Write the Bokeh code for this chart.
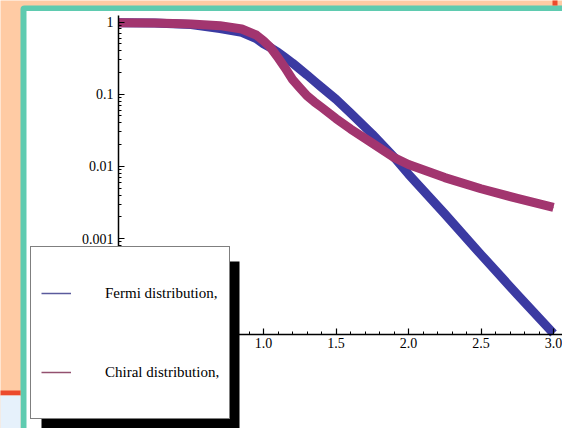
from bokeh.plotting import figure
from bokeh.models import (Range1d, FixedTicker, CustomJSTickFormatter, BoxAnnotation,
                          Legend, LegendItem)
from bokeh.embed import file_html
from bokeh.resources import INLINE

# ---- data ----
x = [0, 0.25, 0.5, 0.7, 0.85, 0.95, 1.0, 1.05, 1.1, 1.15, 1.2, 1.25, 1.3, 1.35,
     1.4, 1.5, 1.6, 1.75, 1.9, 2.0, 2.25, 2.5, 2.75, 3.0]
fermi = [0.98, 0.97, 0.92, 0.81, 0.72, 0.59, 0.50, 0.44, 0.38, 0.32, 0.27, 0.223,
         0.185, 0.152, 0.125, 0.085, 0.055, 0.028, 0.0135, 0.0078, 0.0022, 0.00060,
         0.000168, 0.0000485]
chiral = [0.98, 0.97, 0.94, 0.89, 0.80, 0.66, 0.55, 0.44, 0.32, 0.23, 0.16, 0.123,
          0.095, 0.0785, 0.066, 0.046, 0.033, 0.021, 0.0133, 0.0106, 0.0070, 0.0049,
          0.0036, 0.0027]
labels = ["Fermi distribution,", "Chiral distribution,"]

x_major = [0.5, 1.0, 1.5, 2.0, 2.5, 3.0]
x_minor = [round(0.1 * i, 1) for i in range(1, 31)]
y_major = [1e-4, 1e-3, 1e-2, 1e-1, 1.0]
y_minor = [k * 10.0 ** e for e in range(-5, 1) for k in range(2, 10)]

# ---- styles ----
PEACH = "#ffcba4"
TEAL = "#5fcbb0"
RED = "#ec4a2c"
LIGHTBLUE = "#e6f1fb"
BLUE = "#3b3aa2"
MAGENTA = "#a2356f"
SERIF = "Liberation Serif"

# frame covers the whole canvas; axes are drawn at fixed locations inside it
X0_PX, X_SCALE = 118.0, 145.0          # pixel of x=0, pixels per unit
Y1_PX, DEC_PX = 21.5, 72.2             # pixel of y=1, pixels per decade
W, H = 562, 428
x_lo, x_hi = -X0_PX / X_SCALE, (W - X0_PX) / X_SCALE
y_hi = 10 ** (Y1_PX / DEC_PX)
y_lo = 10 ** (-(H - Y1_PX) / DEC_PX)
x_axis_at = 10 ** (-(334 - Y1_PX) / DEC_PX)
y_axis_top = 10 ** ((Y1_PX - 15) / DEC_PX)

p = figure(width=W, height=H, x_range=Range1d(x_lo, x_hi),
           y_range=Range1d(y_lo, y_hi), y_axis_type="log",
           output_backend="svg", toolbar_location=None,
           min_border=0, min_border_left=0, min_border_right=0,
           min_border_top=0, min_border_bottom=0,
           background_fill_color=PEACH, border_fill_color=PEACH,
           outline_line_color=None)
p.xgrid.visible = False
p.ygrid.visible = False


def cbox(l, t, r, b, color, level="underlay", **kw):
    return BoxAnnotation(left=l, right=r, top=t, bottom=b,
                         left_units="canvas", right_units="canvas",
                         top_units="canvas", bottom_units="canvas",
                         fill_color=color, fill_alpha=1.0, level=level,
                         line_color=None, **kw)


# slide decorations
p.add_layout(cbox(20, 5, 700, 700, TEAL, border_radius=4))
p.add_layout(cbox(26, 10.5, 700, 700, "white"))
p.add_layout(cbox(552, -5, 557, 5, RED))
p.add_layout(cbox(-5, 390, 20, 395, RED))
p.add_layout(cbox(-5, 395, 20, 700, LIGHTBLUE))
# legend shadow
p.add_layout(cbox(41, 261, 239, 700, "black"))

# axes
xa = p.xaxis[0]
xa.fixed_location = x_axis_at
xa.bounds = (0, x_hi)
xa.ticker = FixedTicker(ticks=x_major, minor_ticks=x_minor)
xa.formatter = CustomJSTickFormatter(code="return tick.toFixed(1)")
ya = p.yaxis[0]
ya.fixed_location = 0
ya.bounds = (x_axis_at, y_axis_top)
ya.ticker = FixedTicker(ticks=y_major, minor_ticks=y_minor)
ya.formatter = CustomJSTickFormatter(
    code="return tick >= 1 ? tick.toFixed(0) : String(parseFloat(tick.toPrecision(1)))")
for ax in (xa, ya):
    ax.axis_line_color = "black"
    ax.axis_line_width = 1.5
    ax.major_tick_in = 6
    ax.major_tick_out = 0
    ax.minor_tick_in = 3
    ax.minor_tick_out = 0
    ax.major_tick_line_width = 1.2
    ax.minor_tick_line_width = 1
    ax.major_label_text_font = SERIF
    ax.major_label_text_font_size = "14px"
    ax.major_label_text_color = "black"
xa.major_label_standoff = 3
ya.major_label_standoff = 5

# thin lines used as legend keys (hidden below the thick curves)
r_fk = p.line(x, fermi, line_width=1.5, line_color="#5a5a9c")
r_ck = p.line(x, chiral, line_width=1.5, line_color="#93506f")
# thick curves
p.line(x, fermi, line_width=9, line_color=BLUE, line_join="round")
p.line(x, chiral, line_width=9, line_color=MAGENTA, line_join="round")

legend = Legend(items=[LegendItem(label=labels[0], renderers=[r_fk]),
                       LegendItem(label=labels[1], renderers=[r_ck])],
                location=(30, H - 419), padding=10, spacing=7,
                glyph_height=72, glyph_width=30, label_standoff=34,
                label_height=20, margin=0,
                border_line_color="black", border_line_width=1.5,
                background_fill_color="white", background_fill_alpha=1.0,
                label_text_font=SERIF, label_text_font_size="15px",
                label_text_color="black")
p.add_layout(legend, "center")

open("out.html", "w").write(file_html(p, INLINE))
